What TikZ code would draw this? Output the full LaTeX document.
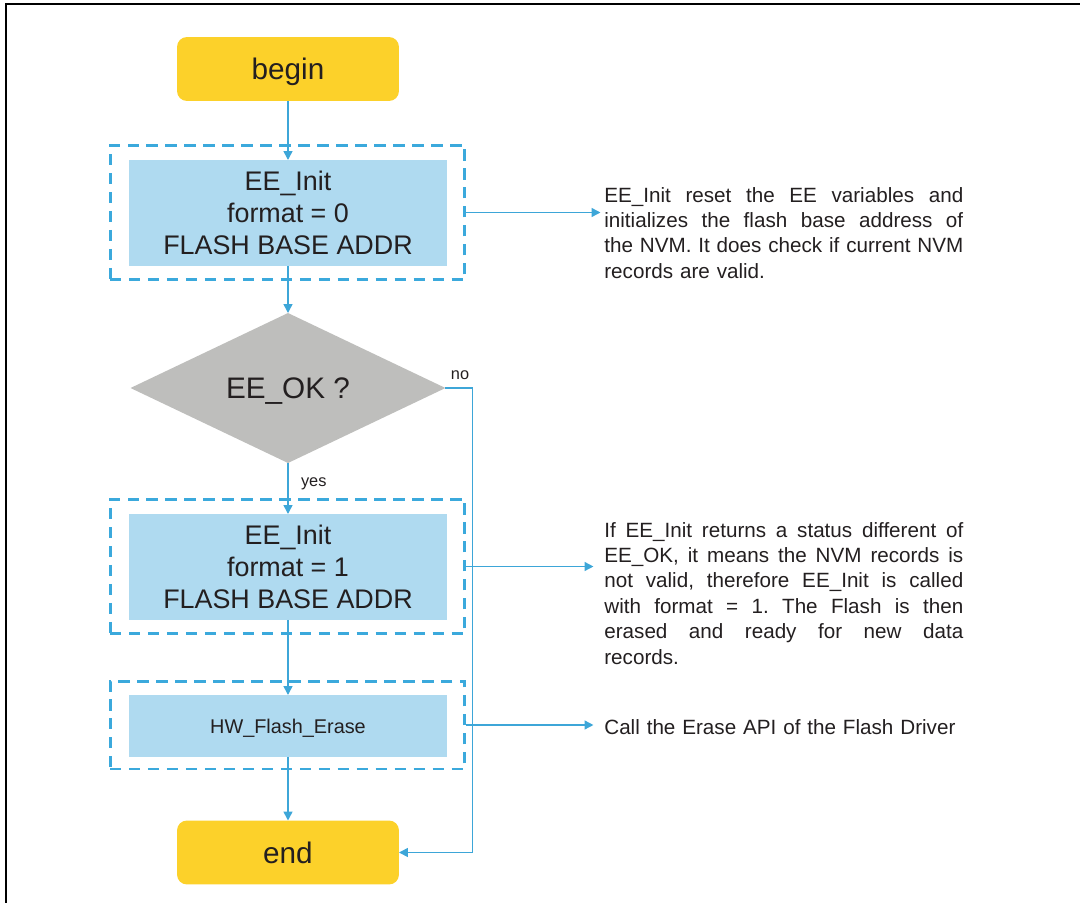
\documentclass[tikz,border=0pt]{standalone}
\usepackage{fontspec}
\setmainfont{Liberation Sans}
\usetikzlibrary{shapes.geometric,arrows.meta}

\definecolor{termfill}{HTML}{FCD12A}
\definecolor{procfill}{HTML}{AFDAF0}
\definecolor{decfill}{HTML}{BEBEBC}
\definecolor{flowline}{HTML}{3DA6D8}
\definecolor{groupline}{HTML}{3BA9DC}
\definecolor{ink}{HTML}{231F20}

% one fully justified line of a note (spaces allowed to stretch)
\newcommand\jline[1]{{\frenchspacing\spaceskip=0pt\xspaceskip=0pt\makebox[7.18cm][s]{#1}}}

\tikzset{
  terminal/.style={fill=termfill, rounded corners=0.2cm, minimum width=4.44cm,
    minimum height=1.28cm, inner sep=0, outer sep=0, text=ink, text depth=0pt,
    font=\fontsize{16.9}{20}\selectfont},
  process/.style={fill=procfill, minimum width=6.36cm, inner sep=0, outer sep=0,
    text=ink, align=center},
  bigtext/.style={font=\fontsize{15.3}{18.1}\selectfont},
  group/.style={draw=groupline, line width=1.7pt, dash pattern=on 6.5pt off 4.3pt,
    minimum width=7.1cm, inner sep=0},
  decision/.style={diamond, fill=decfill, aspect=2.1, minimum width=6.3cm,
    minimum height=3cm, inner sep=0, outer sep=0, text=ink, text depth=0pt,
    font=\fontsize{16.9}{20}\selectfont},
  flow/.style={draw=flowline, line width=0.85pt, -{Triangle[length=5pt,width=5pt]}},
  note/.style={anchor=base west, inner sep=0, text width=7.18cm, align=left,
    text=ink, font=\fontsize{11.75}{14.5}\selectfont},
  tag/.style={inner sep=0, text=ink, font=\fontsize{9.3}{11}\selectfont},
}

\begin{document}
\begin{tikzpicture}[x=0.02cm, y=-0.02cm]
  \useasboundingbox (0,0) rectangle (1080,903);

  % page frame (top and left edges)
  \draw[line width=1.4pt] (6,903) -- (6,4) -- (1080,4);

  % group frames
  \node[group, minimum height=2.7cm]  (grp1) at (287.5,212.5) {};
  \node[group, minimum height=2.7cm]  (grp2) at (287.5,566.5) {};
  \node[group, minimum height=1.76cm] (grp3) at (287.5,725) {};

  % flow steps
  \node[terminal] (begin) at (288,69) {begin};
  \node[process, bigtext, minimum height=2.12cm] (init0) at (288,213)
    {EE\_Init\\format = 0\\FLASH BASE ADDR};
  \node[decision] (check) at (288,388) {EE\_OK ?};
  \node[process, bigtext, minimum height=2.12cm] (init1) at (288,567)
    {EE\_Init\\format = 1\\FLASH BASE ADDR};
  \node[process, minimum height=1.24cm, text depth=0pt,
    font=\fontsize{11.3}{13}\selectfont] (erase) at (288,726) {HW\_Flash\_Erase};
  \node[terminal] (finish) at (288,852.5) {end};

  % explanations
  \node[note] (note1) at (604,202) {%
    \jline{EE\_Init reset the EE variables and}\\
    \jline{initializes the flash base address of}\\
    \jline{the NVM. It does check if current NVM}\\
    records are valid.};
  \node[note] (note2) at (604,537) {%
    \jline{If EE\_Init returns a status different of}\\
    \jline{EE\_OK, it means the NVM records is}\\
    \jline{not valid, therefore EE\_Init is called}\\
    \jline{with format = 1. The Flash is then}\\
    \jline{erased and ready for new data}\\
    records.};
  \node[note] (note3) at (604,734) {Call the Erase API of the Flash Driver};

  % connectors
  \draw[flow] (begin) -- (init0);
  \draw[flow] (init0) -- (check);
  \draw[flow] (check) -- node[tag, pos=0.4, right=7pt] {yes} (init1);
  \draw[flow] (init1) -- (erase);
  \draw[flow] (erase) -- (finish);
  \draw[flow] (check.east) -- ++(27,0) |- (finish.east);
  \node[tag] (nolabel) at (460,375) {no};

  \draw[flow, shorten >=2pt] (grp1.east) -- (grp1.east -| note1.west);
  \draw[flow, shorten >=6pt] (grp2.east) -- (grp2.east -| note2.west);
  \draw[flow, shorten >=6pt] (grp3.east) -- (grp3.east -| note3.west);
\end{tikzpicture}
\end{document}
